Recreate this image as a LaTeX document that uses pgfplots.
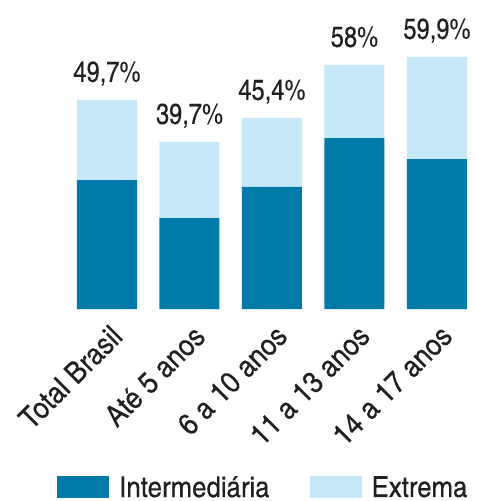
\documentclass[border=0pt]{standalone}
\usepackage{fontspec}
\setmainfont{texgyreheroscn}[Extension=.otf, UprightFont=*-regular, BoldFont=*-bold, FakeBold=0.25]
\newfontfamily\rotulo{texgyreheroscn}[Extension=.otf, UprightFont=*-regular, FakeStretch=1.09, FakeBold=0.25]
\usepackage{pgfplots}
\pgfplotsset{compat=1.18}
\definecolor{escura}{RGB}{0,122,166}
\definecolor{clara}{RGB}{199,232,248}
\definecolor{texto}{RGB}{35,31,32}

\pgfplotsset{
  geral/.style={
    at={(65.75bp,192bp)}, anchor=south west,
    scale only axis, width=412.5bp, height=252.6bp,
    xmin=-0.5, xmax=4.5, ymin=0, ymax=60,
    clip=false,
  },
}

\begin{document}
\begin{tikzpicture}
\path[use as bounding box] (0,0) rectangle (477bp,501bp);
\begin{axis}[
  geral,
  ybar stacked, bar width=60bp,
  hide y axis,
  axis x line*=bottom, x axis line style={draw=none},
  xtick=data,
  xticklabels={Total Brasil, Até 5 anos, 6 a 10 anos, 11 a 13 anos, 14 a 17 anos},
  major tick length=0pt,
  xticklabel style={xshift=2bp, yshift=-14bp, rotate=45, anchor=north east,
    inner sep=0pt, font=\rotulo\fontsize{30}{30}\selectfont, text=texto},
  legend columns=2,
  legend image code/.code={\fill[#1] (0bp,-11bp) rectangle (52bp,11bp);},
  legend style={at={(-0.0212,-0.653)}, anchor=north west, draw=none, fill=none,
    inner sep=0pt, font=\rotulo\fontsize{29}{29}\selectfont, text=texto,
    /tikz/every odd column/.append style={column sep=8bp},
    /tikz/every even column/.append style={column sep=38bp}},
]
\addplot+[fill=escura, draw=none] coordinates {
  (0,30.6) (1,21.6) (2,29.0) (3,40.6) (4,35.6)};
\addlegendentry{Intermediária}
\addplot+[fill=clara, draw=none] coordinates {
  (0,19.1) (1,18.1) (2,16.4) (3,17.4) (4,24.3)};
\addlegendentry{Extrema}
\end{axis}
% totais
\begin{axis}[geral, hide axis]
\addplot[draw=none, mark=none, point meta=explicit,
  nodes near coords={\pgfmathprintnumber[fixed, precision=1,
    use comma, assume math mode=true]{\pgfplotspointmeta}\%},
  every node near coord/.append style={anchor=base, yshift=18bp, inner sep=0pt,
    font=\fontsize{29}{29}\selectfont, text=texto}] coordinates {
  (0,49.7) [49.7] (1,39.7) [39.7] (2,45.4) [45.4] (3,58) [58] (4,59.9) [59.9]};
\end{axis}
\end{tikzpicture}
\end{document}
